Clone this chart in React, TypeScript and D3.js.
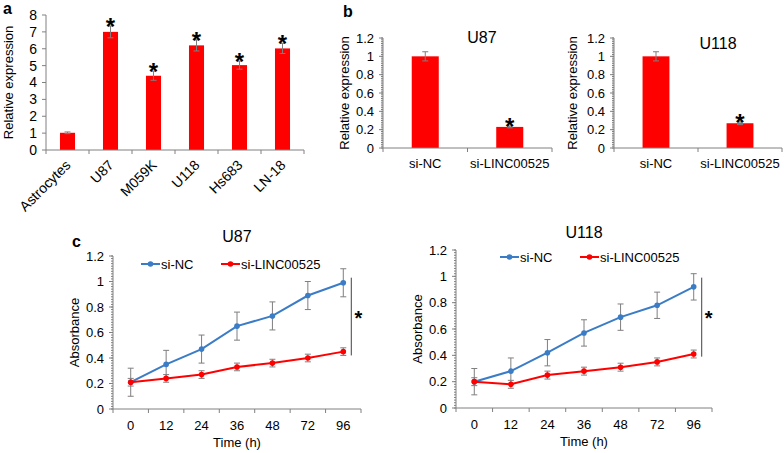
import React from "react";
import * as d3 from "d3";

// panel a: expression in cell lines
const aCategories = ["Astrocytes", "U87", "M059K", "U118", "Hs683", "LN-18"];
const aValues = [1.02, 7.0, 4.4, 6.2, 5.03, 6.02];
const aErrors = [0.05, 0.35, 0.27, 0.33, 0.24, 0.3];
const aStars = [false, true, true, true, true, true];
const aYTicks = [0, 1, 2, 3, 4, 5, 6, 7, 8];

// panel b: knockdown
const bGroups = ["si-NC", "si-LINC00525"];
const bU87Values = [1.0, 0.23];
const bU87Errors = [0.05, 0.01];
const bU118Values = [1.0, 0.27];
const bU118Errors = [0.05, 0.015];
const bStars = [false, true];
const bYTicks = [0, 0.2, 0.4, 0.6, 0.8, 1, 1.2];

// panel c: growth curves
const timePoints = ["0", "12", "24", "36", "48", "72", "96"];
const seriesNames = ["si-NC", "si-LINC00525"];
const cU87NC = [0.21, 0.35, 0.47, 0.65, 0.73, 0.89, 0.99];
const cU87NCErr = [0.11, 0.11, 0.11, 0.11, 0.11, 0.11, 0.11];
const cU87LINC = [0.21, 0.24, 0.27, 0.33, 0.36, 0.4, 0.45];
const cU87LINCErr = [0.03, 0.03, 0.03, 0.03, 0.03, 0.03, 0.03];
const cU118NC = [0.2, 0.28, 0.42, 0.57, 0.69, 0.78, 0.92];
const cU118NCErr = [0.1, 0.1, 0.1, 0.1, 0.1, 0.1, 0.1];
const cU118LINC = [0.2, 0.18, 0.25, 0.28, 0.31, 0.35, 0.41];
const cU118LINCErr = [0.03, 0.03, 0.03, 0.03, 0.03, 0.03, 0.03];
const cU87Bracket = [0.42, 1.03];
const cU118Bracket = [0.39, 0.99];
const cYTicks = [0, 0.2, 0.4, 0.6, 0.8, 1, 1.2];

const FONT = "'Liberation Sans', Arial, sans-serif";
const RED = "#ff0000";
const BLUE = "#3b7cc6";
const ERR = "#7f7f7f";
const AXIS = "#808080";

const fmt = (t) => String(+t.toFixed(1));

function YAxis({ x, y, ticks, minorStep, fontSize }) {
  const [lo, hi] = y.domain();
  const minor = minorStep ? d3.range(lo, hi + 1e-9, minorStep) : [];
  return (
    <g>
      <line x1={x} x2={x} y1={y(hi)} y2={y(lo)} stroke={AXIS} />
      {minor.map((t, i) => (
        <line key={"m" + i} x1={x - 2} x2={x} y1={y(t)} y2={y(t)} stroke={AXIS} />
      ))}
      {ticks.map((t) => (
        <g key={t}>
          <line x1={x - 4} x2={x} y1={y(t)} y2={y(t)} stroke={AXIS} />
          <text x={x - 9} y={y(t)} dy="0.35em" textAnchor="end" fontSize={fontSize}>
            {fmt(t)}
          </text>
        </g>
      ))}
    </g>
  );
}

function BarPanel(props) {
  const { left, right, top, bottom, categories, values, errors, stars, ticks, minorStep,
    barFrac, rotate, yTitle, yTitleX, title, titleX, titleY, tickSize } = props;
  const x = d3.scaleBand().domain(categories).range([left, right]);
  const y = d3.scaleLinear().domain([0, ticks[ticks.length - 1]]).range([bottom, top]);
  const bw = x.bandwidth() * barFrac;
  const bounds = categories.map((c) => x(c)).concat([right]);
  return (
    <g>
      {categories.map((c, i) => {
        const cx = x(c) + x.bandwidth() / 2;
        const yt = y(values[i] + errors[i]);
        return (
          <g key={c}>
            <rect x={cx - bw / 2} y={y(values[i])} width={bw} height={bottom - y(values[i])} fill={RED} />
            <line x1={cx} x2={cx} y1={yt} y2={y(values[i] - errors[i])} stroke={ERR} />
            <line x1={cx - 3} x2={cx + 3} y1={yt} y2={yt} stroke={ERR} />
            <line x1={cx - 3} x2={cx + 3} y1={y(values[i] - errors[i])} y2={y(values[i] - errors[i])} stroke={ERR} />
            {stars[i] && (
              <text x={cx} y={yt + 9} textAnchor="middle" fontSize={24} fontWeight="bold">*</text>
            )}
            {rotate ? (
              <text transform={`translate(${cx + 4},${bottom + 16}) rotate(-45)`} textAnchor="end" fontSize={tickSize}>
                {c}
              </text>
            ) : (
              <text x={cx} y={bottom + 20} textAnchor="middle" fontSize={tickSize}>{c}</text>
            )}
          </g>
        );
      })}
      <line x1={left} x2={right} y1={bottom} y2={bottom} stroke={AXIS} />
      {bounds.map((b, i) => (
        <line key={i} x1={b} x2={b} y1={bottom} y2={bottom + 4} stroke={AXIS} />
      ))}
      <YAxis x={left} y={y} ticks={ticks} minorStep={minorStep} fontSize={tickSize} />
      <text transform={`translate(${yTitleX},${(top + bottom) / 2}) rotate(-90)`} textAnchor="middle" fontSize={13}>
        {yTitle}
      </text>
      {title && (
        <text x={titleX} y={titleY} textAnchor="middle" fontSize={16}>{title}</text>
      )}
    </g>
  );
}

function LinePanel(props) {
  const { left, right, top, bottom, series, bracket, title, titleY, legendX, legendY } = props;
  const x = d3.scaleBand().domain(timePoints).range([left, right]);
  const y = d3.scaleLinear().domain([0, 1.2]).range([bottom, top]);
  const cx = (t) => x(t) + x.bandwidth() / 2;
  const line = d3.line().x((d, i) => cx(timePoints[i])).y((d) => y(d));
  const bounds = timePoints.map((t) => x(t)).concat([right]);
  const bx = cx(timePoints[timePoints.length - 1]) + 8;
  return (
    <g>
      <line x1={left} x2={right} y1={bottom} y2={bottom} stroke={AXIS} />
      {bounds.map((b, i) => (
        <line key={i} x1={b} x2={b} y1={bottom} y2={bottom + 4} stroke={AXIS} />
      ))}
      {timePoints.map((t) => (
        <text key={t} x={cx(t)} y={bottom + 21} textAnchor="middle" fontSize={13}>{t}</text>
      ))}
      <YAxis x={left} y={y} ticks={cYTicks} minorStep={0.02} fontSize={13} />
      {series.map((s) =>
        s.values.map((v, i) => {
          const px = cx(timePoints[i]);
          const y1 = y(v + s.errors[i]);
          const y2 = y(v - s.errors[i]);
          return (
            <g key={s.name + i}>
              <line x1={px} x2={px} y1={y1} y2={y2} stroke={ERR} />
              <line x1={px - 3} x2={px + 3} y1={y1} y2={y1} stroke={ERR} />
              <line x1={px - 3} x2={px + 3} y1={y2} y2={y2} stroke={ERR} />
            </g>
          );
        })
      )}
      {series.map((s) => (
        <g key={s.name}>
          <path d={line(s.values)} fill="none" stroke={s.color} strokeWidth={2} />
          {s.values.map((v, i) => (
            <circle key={i} cx={cx(timePoints[i])} cy={y(v)} r={2.8} fill={s.color} />
          ))}
        </g>
      ))}
      <line x1={bx} x2={bx} y1={y(bracket[1])} y2={y(bracket[0])} stroke="#404040" />
      <text x={bx + 7} y={y((bracket[0] + bracket[1]) / 2) + 8} textAnchor="middle" fontSize={20} fontWeight="bold">*</text>
      {series.map((s, k) => (
        <g key={"lg" + k} transform={`translate(${legendX + k * 80},${legendY})`}>
          <line x1={0} x2={19} y1={0} y2={0} stroke={s.color} strokeWidth={2} />
          <circle cx={9.5} cy={0} r={2.8} fill={s.color} />
          <text x={20} y={0} dy="0.35em" fontSize={13}>{s.name}</text>
        </g>
      ))}
      <text x={(left + right) / 2} y={titleY} textAnchor="middle" fontSize={16}>{title}</text>
      <text x={(left + right) / 2} y={bottom + 38} textAnchor="middle" fontSize={13}>Time (h)</text>
      <text transform={`translate(${left - 34},${(top + bottom) / 2}) rotate(-90)`} textAnchor="middle" fontSize={13}>
        Absorbance
      </text>
    </g>
  );
}

export default function App() {
  return (
    <svg width={784} height={453} style={{ position: "absolute", left: 0, top: 0, background: "#fff" }}
      fontFamily={FONT}>
      <rect width={784} height={453} fill="#fff" />
      <text x={3} y={14} fontSize={16} fontWeight="bold">a</text>
      <text x={343} y={17} fontSize={16} fontWeight="bold">b</text>
      <text x={72} y={247} fontSize={16} fontWeight="bold">c</text>

      <BarPanel left={46} right={304} top={15} bottom={150} categories={aCategories}
        values={aValues} errors={aErrors} stars={aStars} ticks={aYTicks} minorStep={0}
        barFrac={0.35} rotate yTitle="Relative expression" yTitleX={13} tickSize={14} />

      <BarPanel left={383} right={552} top={38} bottom={148} categories={bGroups}
        values={bU87Values} errors={bU87Errors} stars={bStars} ticks={bYTicks} minorStep={0.02}
        barFrac={0.32} yTitle="Relative expression" yTitleX={349} tickSize={13}
        title="U87" titleX={482} titleY={43} />

      <BarPanel left={614} right={782} top={38} bottom={148} categories={bGroups}
        values={bU118Values} errors={bU118Errors} stars={bStars} ticks={bYTicks} minorStep={0.02}
        barFrac={0.32} yTitle="Relative expression" yTitleX={577} tickSize={13}
        title="U118" titleX={718} titleY={49} />

      <LinePanel left={113} right={361} top={256} bottom={409} title="U87" titleY={242}
        legendX={141} legendY={264} bracket={cU87Bracket}
        series={[
          { name: seriesNames[0], values: cU87NC, errors: cU87NCErr, color: BLUE },
          { name: seriesNames[1], values: cU87LINC, errors: cU87LINCErr, color: RED },
        ]} />

      <LinePanel left={456} right={712} top={250} bottom={408} title="U118" titleY={238}
        legendX={500} legendY={257} bracket={cU118Bracket}
        series={[
          { name: seriesNames[0], values: cU118NC, errors: cU118NCErr, color: BLUE },
          { name: seriesNames[1], values: cU118LINC, errors: cU118LINCErr, color: RED },
        ]} />
    </svg>
  );
}
